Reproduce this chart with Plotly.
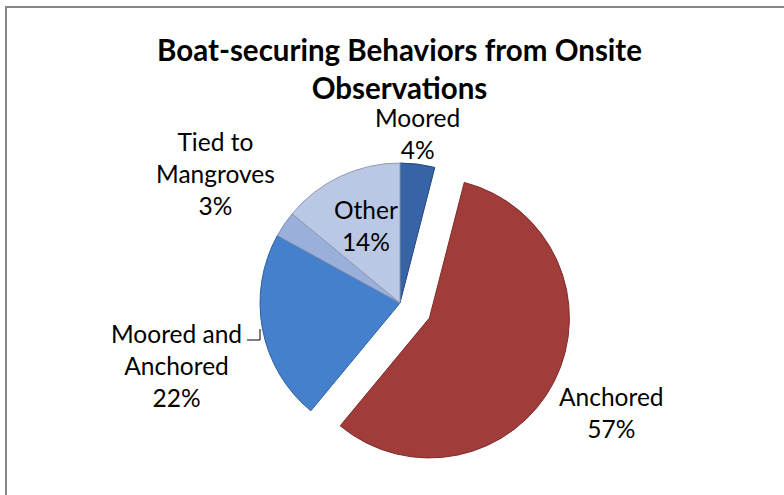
import plotly.graph_objects as go

# Boat-securing behaviours recorded during onsite observations
categories = ["Moored", "Anchored", "Moored and Anchored", "Tied to Mangroves", "Other"]
shares = [4, 57, 22, 3, 14]
label_lines = ["Moored", "Anchored", "Moored and<br>Anchored", "Tied to<br>Mangroves", "Other"]

slice_colors = ["#3664A6", "#A03C3A", "#4480CB", "#9AB0DA", "#BAC8E5"]
edge_colors = ["#24477A", "#7E2C2A", "#2F5F9E", "#7F8FAF", "#8E9BB5"]
pulls = [0, 0.236, 0, 0, 0]

W, H = 784, 495

fig = go.Figure(
    go.Pie(
        labels=categories,
        values=shares,
        sort=False,
        direction="clockwise",
        rotation=0,
        pull=pulls,
        textinfo="none",
        hoverinfo="label+percent",
        marker=dict(colors=slice_colors, line=dict(color=edge_colors, width=1)),
        domain=dict(x=[227 / W, 573 / W], y=[1 - 476 / H, 1 - 130 / H]),
        showlegend=False,
    )
)

# data-label placement (pixel centres of each label block)
label_pos = {
    "Moored": (417, 134),
    "Anchored": (611, 412),
    "Moored and Anchored": (176, 365),
    "Tied to Mangroves": (216, 173),
    "Other": (366, 225),
}

annotations = []
for name, lines, val in zip(categories, label_lines, shares):
    px, py = label_pos[name]
    annotations.append(
        dict(
            x=px / W,
            y=1 - py / H,
            xref="paper",
            yref="paper",
            text=f"{lines}<br>{val}%",
            showarrow=False,
            xanchor="center",
            yanchor="middle",
            align="center",
            font=dict(family="Lato, Carlito, sans-serif", size=24.5, color="#000000"),
        )
    )

annotations.append(
    dict(
        x=399 / W,
        y=1 - 68 / H,
        xref="paper",
        yref="paper",
        text="<b>Boat-securing Behaviors from Onsite<br>Observations</b>",
        showarrow=False,
        xanchor="center",
        yanchor="middle",
        align="center",
        font=dict(family="Lato, Carlito, sans-serif", size=29.5, color="#000000"),
    )
)

shapes = [
    # chart frame (left and top edges)
    dict(type="line", xref="paper", yref="paper", x0=6 / W, x1=6 / W, y0=0, y1=1 - 6 / H,
         line=dict(color="#878787", width=2)),
    dict(type="line", xref="paper", yref="paper", x0=6 / W, x1=1, y0=1 - 7 / H, y1=1 - 7 / H,
         line=dict(color="#878787", width=2)),
    # leader line for the "Moored and Anchored" label
    dict(type="path", xref="paper", yref="paper",
         path=f"M {247 / W} {1 - 340 / H} L {260 / W} {1 - 340 / H} L {260 / W} {1 - 329 / H}",
         line=dict(color="#000000", width=1)),
]

fig.update_layout(
    width=W,
    height=H,
    margin=dict(l=0, r=0, t=0, b=0),
    paper_bgcolor="#FFFFFF",
    plot_bgcolor="#FFFFFF",
    annotations=annotations,
    shapes=shapes,
)

fig.write_html("out.html")
